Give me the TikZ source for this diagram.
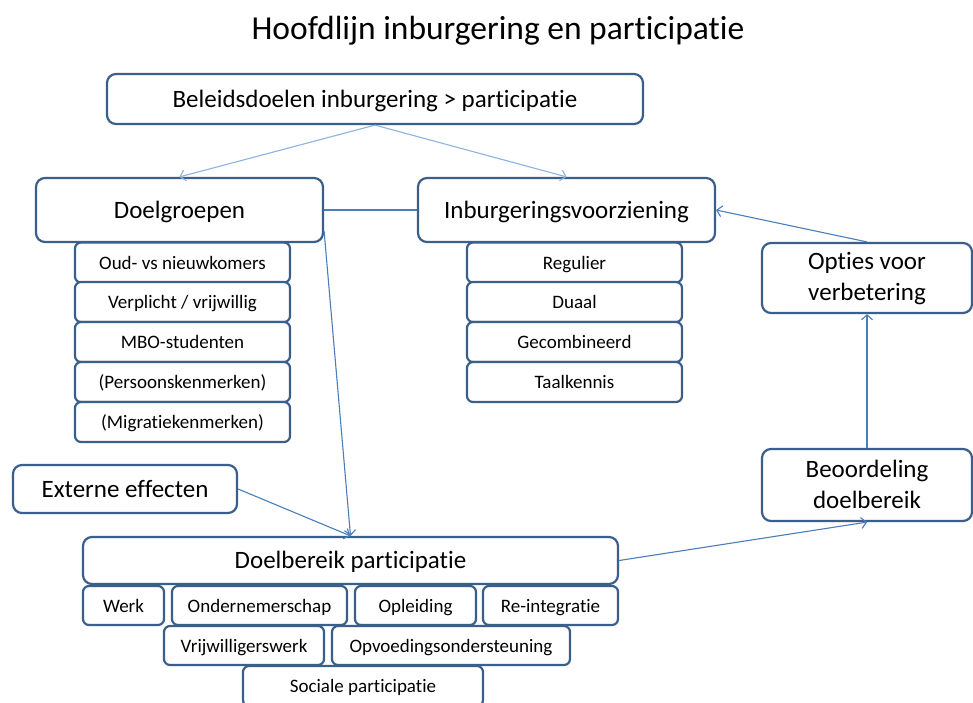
\documentclass[tikz,border=0pt]{standalone}
\usepackage{fontspec}
\setmainfont[Ligatures={NoCommon}]{Carlito}
\usetikzlibrary{arrows.meta}
\definecolor{boxline}{HTML}{3A5F8B}
\definecolor{arrowblue}{HTML}{4A7EBB}
\definecolor{lightarrow}{HTML}{8DB3E2}
\newcommand\topstrut{\rule{0pt}{19pt}}
\newcommand\botstrut{\rule[-3pt]{0pt}{3pt}}
\begin{document}
\begin{tikzpicture}[x=1pt,y=-1pt,
  boxbase/.style={draw=boxline, line width=2.2pt, rounded corners=9pt, fill=white,
    font=\fontsize{25}{31}\selectfont, align=center, inner sep=0pt},
  bigbox/.style={boxbase, text height=19pt, text depth=3pt},
  twoline/.style={boxbase},
  smallbox/.style={draw=boxline, line width=2.2pt, rounded corners=6pt, fill=white,
    font=\fontsize{19}{23}\selectfont, inner sep=0pt, text height=15pt, text depth=2pt},
  conn/.style={draw=arrowblue, line width=1.1pt},
  arr/.style={conn, -{Straight Barb[length=5pt,width=11pt]}},
  lightarr/.style={arr, draw=lightarrow},
]
\useasboundingbox (0,0) rectangle (973,702);
\fill[white] (0,0) rectangle (973,702);

\node[font=\fontsize{33.5}{40}\selectfont, anchor=base, inner sep=0pt] (title) at (498,39) {Hoofdlijn inburgering en participatie};

% main boxes
\node[bigbox, minimum width=536pt, minimum height=50pt] (bel) at (375,99) {Beleidsdoelen inburgering > participatie};
\node[bigbox, minimum width=287pt, minimum height=64pt] (dg) at (179.5,210) {Doelgroepen};
\node[bigbox, minimum width=297pt, minimum height=64pt] (iv) at (566.5,210) {Inburgeringsvoorziening};
\node[twoline, minimum width=210pt, minimum height=70pt] (op) at (867,278) {\topstrut Opties voor\\verbetering\botstrut};
\node[twoline, minimum width=210pt, minimum height=72pt] (bo) at (867,485) {\topstrut Beoordeling\\doelbereik\botstrut};
\node[bigbox, minimum width=224pt, minimum height=48pt] (ext) at (125,489) {Externe effecten};
\node[bigbox, minimum width=535pt, minimum height=47pt] (dp) at (350.5,560.5) {Doelbereik participatie};

% doelgroepen sub-boxes
\node[smallbox, minimum width=215pt, minimum height=40pt] (dg1) at (182.5,262.5) {Oud- vs nieuwkomers};
\node[smallbox, minimum width=215pt, minimum height=40pt] (dg2) at (182.5,302) {Verplicht / vrijwillig};
\node[smallbox, minimum width=215pt, minimum height=40pt] (dg3) at (182.5,342) {MBO-studenten};
\node[smallbox, minimum width=215pt, minimum height=40pt] (dg4) at (182.5,382) {(Persoonskenmerken)};
\node[smallbox, minimum width=215pt, minimum height=40pt] (dg5) at (182.5,422) {(Migratiekenmerken)};

% inburgering sub-boxes
\node[smallbox, minimum width=215pt, minimum height=40pt] (iv1) at (574.5,262.5) {Regulier};
\node[smallbox, minimum width=215pt, minimum height=40pt] (iv2) at (574.5,302) {Duaal};
\node[smallbox, minimum width=215pt, minimum height=40pt] (iv3) at (574.5,342) {Gecombineerd};
\node[smallbox, minimum width=215pt, minimum height=40pt] (iv4) at (574.5,382) {Taalkennis};

% participatie sub-boxes
\node[smallbox, minimum width=81pt, minimum height=39pt] (p1) at (123.5,605.5) {Werk};
\node[smallbox, minimum width=175pt, minimum height=39pt] (p2) at (259.5,605.5) {Ondernemerschap};
\node[smallbox, minimum width=121pt, minimum height=39pt] (p3) at (415.5,605.5) {Opleiding};
\node[smallbox, minimum width=135pt, minimum height=39pt] (p4) at (550.5,605.5) {Re-integratie};
\node[smallbox, minimum width=160pt, minimum height=39pt] (p5) at (244,645.5) {Vrijwilligerswerk};
\node[smallbox, minimum width=238pt, minimum height=39pt] (p6) at (451,645.5) {Opvoedingsondersteuning};
\node[smallbox, minimum width=240pt, minimum height=40pt] (p7) at (363,686) {Sociale participatie};

% connectors
\draw[lightarr] (bel.south) -- (dg.north);
\draw[lightarr] (bel.south) -- (iv.north);
\draw[conn] (dg.east) -- (iv.west);
\draw[arr] ([yshift=12pt]dg.south east) -- (dp.north);
\draw[arr] (ext.east) -- (dp.north);
\draw[arr] (dp.east) -- (bo.south);
\draw[arr] (bo.north) -- (op.south);
\draw[arr] (op.north) -- (iv.east);
\end{tikzpicture}
\end{document}
